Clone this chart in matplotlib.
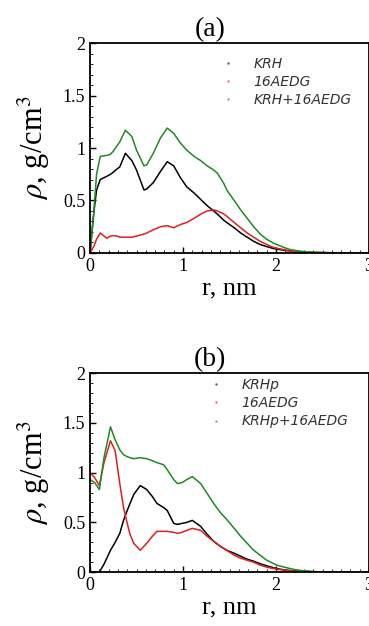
import matplotlib.pyplot as plt
from matplotlib.ticker import MultipleLocator

plt.rcParams['font.family'] = 'Liberation Serif'
plt.rcParams['mathtext.fontset'] = 'stix'

# panel (a)
r_a = [0.0, 0.04, 0.07, 0.11, 0.18, 0.22, 0.25, 0.29, 0.32, 0.38, 0.45, 0.5, 0.58, 0.61,
       0.68, 0.76, 0.83, 0.9, 0.97, 1.04, 1.12, 1.19, 1.26, 1.33, 1.37, 1.44, 1.47, 1.55,
       1.62, 1.69, 1.76, 1.83, 1.9, 1.98, 2.09, 2.16, 2.27, 2.4, 2.6, 3.0]
krh = [0.0, 0.38, 0.6, 0.7, 0.73, 0.75, 0.77, 0.8, 0.82, 0.95, 0.88, 0.79, 0.6, 0.61,
       0.67, 0.78, 0.87, 0.83, 0.72, 0.63, 0.57, 0.51, 0.45, 0.4, 0.37, 0.31, 0.29, 0.24,
       0.19, 0.15, 0.11, 0.08, 0.06, 0.04, 0.025, 0.017, 0.01, 0.004, 0.001, 0.0]
aedg_a = [0.0, 0.06, 0.13, 0.19, 0.14, 0.16, 0.165, 0.16, 0.15, 0.15, 0.15, 0.16, 0.18, 0.19,
          0.22, 0.25, 0.26, 0.24, 0.27, 0.29, 0.33, 0.37, 0.4, 0.41, 0.4, 0.37, 0.35, 0.29,
          0.24, 0.19, 0.15, 0.11, 0.08, 0.05, 0.03, 0.016, 0.008, 0.003, 0.001, 0.0]
sum_a = [0.0, 0.38, 0.75, 0.92, 0.93, 0.94, 0.97, 1.02, 1.06, 1.17, 1.11, 0.98, 0.83, 0.84,
         0.95, 1.1, 1.19, 1.14, 1.05, 0.98, 0.92, 0.88, 0.83, 0.79, 0.76, 0.66, 0.6, 0.5,
         0.41, 0.33, 0.25, 0.18, 0.13, 0.09, 0.05, 0.03, 0.016, 0.006, 0.002, 0.0]

# panel (b)
r_b = [0.0, 0.05, 0.1, 0.15, 0.22, 0.27, 0.32, 0.36, 0.4, 0.43, 0.47, 0.54, 0.61, 0.67,
       0.72, 0.79, 0.83, 0.9, 0.94, 0.99, 1.04, 1.1, 1.19, 1.26, 1.33, 1.4, 1.47, 1.55,
       1.62, 1.69, 1.76, 1.83, 1.9, 2.01, 2.09, 2.19, 2.27, 2.45, 2.7, 3.0]
krhp = [0.0, 0.0, 0.0, 0.08, 0.22, 0.3, 0.39, 0.52, 0.62, 0.69, 0.78, 0.87, 0.83, 0.76,
        0.69, 0.65, 0.62, 0.49, 0.48, 0.49, 0.5, 0.52, 0.46, 0.38, 0.31, 0.26, 0.22, 0.19,
        0.16, 0.13, 0.11, 0.085, 0.064, 0.035, 0.023, 0.012, 0.008, 0.002, 0.0, 0.0]
aedg_b = [1.0, 0.95, 0.87, 1.1, 1.32, 1.22, 0.89, 0.65, 0.49, 0.38, 0.29, 0.22, 0.29, 0.36,
          0.41, 0.41, 0.41, 0.4, 0.39, 0.4, 0.42, 0.44, 0.42, 0.36, 0.31, 0.26, 0.22, 0.17,
          0.14, 0.12, 0.1, 0.07, 0.05, 0.03, 0.02, 0.01, 0.006, 0.002, 0.0, 0.0]
sum_b = [0.93, 0.9, 0.83, 1.15, 1.46, 1.33, 1.23, 1.18, 1.16, 1.15, 1.14, 1.15, 1.14, 1.12,
         1.1, 1.08, 1.03, 0.93, 0.89, 0.9, 0.93, 0.96, 0.89, 0.79, 0.69, 0.6, 0.53, 0.44,
         0.36, 0.29, 0.22, 0.17, 0.12, 0.07, 0.05, 0.028, 0.017, 0.004, 0.001, 0.0]

labels_a = ['KRH', '16AEDG', 'KRH+16AEDG']
labels_b = ['KRHp', '16AEDG', 'KRHp+16AEDG']
colors = ['black', '#e0201c', '#1f8a24']

fig = plt.figure(figsize=(3.69, 6.26), dpi=100)
ax_a = fig.add_axes([0.244, 0.596, 0.756, 0.335])
ax_b = fig.add_axes([0.244, 0.086, 0.756, 0.318])


def draw(ax, r, series, labels, title, leg_anchor):
    for y, c, lab in zip(series, colors, labels):
        ax.plot(r, y, color=c, lw=1.1, label=lab)
    ax.set_xlim(0, 3)
    ax.set_ylim(0, 2)
    ax.set_xticks([0, 1, 2, 3])
    ax.set_yticks([0, 0.5, 1, 1.5, 2])
    ax.set_yticklabels(['0', '0.5', '1', '1.5', '2'])
    ax.yaxis.set_minor_locator(MultipleLocator(0.1))
    ax.xaxis.set_minor_locator(MultipleLocator(0.1))
    ax.tick_params(direction='in', labelsize=13, length=4, width=1)
    ax.tick_params(which='minor', direction='in', length=2)
    for s in ax.spines.values():
        s.set_linewidth(1.3)
    ax.set_title(title, fontsize=20, x=0.43, pad=5)
    ax.set_xlabel('r, nm', fontsize=19, labelpad=2)
    ax.set_ylabel(r'$\rho$, g/cm$^3$', fontsize=22)
    ax.yaxis.set_label_coords(-0.137, 0.5)
    leg = ax.legend(loc='upper left', bbox_to_anchor=leg_anchor, frameon=False,
                    prop={'family': 'DejaVu Sans', 'style': 'italic', 'size': 10},
                    handlelength=0.8, handletextpad=1.45, labelspacing=0.3,
                    borderpad=0, borderaxespad=0)
    for h in leg.get_lines():
        h.set_linewidth(0)
        h.set_marker('.')
        h.set_markersize(2)
        h.set_alpha(0.4)
    for t in leg.get_texts():
        t.set_color('#333333')


draw(ax_a, r_a, [krh, aedg_a, sum_a], labels_a, '(a)', (0.473, 0.935))
draw(ax_b, r_b, [krhp, aedg_b, sum_b], labels_b, '(b)', (0.43, 0.975))

fig.savefig('out.png', dpi=100)
